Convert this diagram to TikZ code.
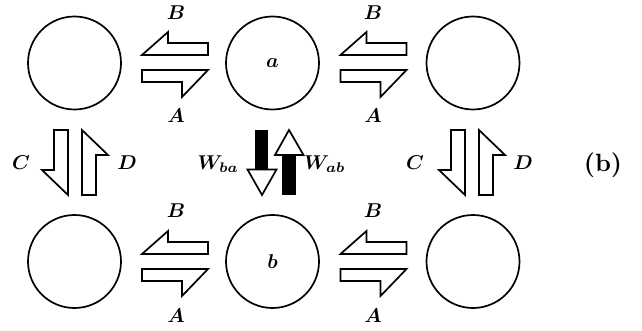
\documentclass[tikz,border=0pt]{standalone}
\usepackage{amsmath}
\usetikzlibrary{calc}
\newcommand{\mylbl}[1]{\scalebox{2}{\boldmath$#1$}}
\tikzset{
  circ/.style={draw, circle, line width=1.7pt, minimum size=93pt, inner sep=0pt},
  outl/.style={draw, line width=1.7pt, fill=white, line join=miter},
  lbl/.style={inner sep=0pt},
  hpair/.pic={
    \draw[outl] (-33,-8) -- (-7,-31) -- (-7,-20) -- (33,-20) -- (33,-8) -- cycle;
    \draw[outl] (-33,7) -- (33,7) -- (7,34) -- (7,19) -- (-33,19) -- cycle;
  },
  vpair/.pic={
    \draw[outl] (-21,-32.5) -- (-7,-32.5) -- (-7,32.5) -- (-33,7.5) -- (-21,7.5) -- cycle;
    \draw[outl] (7,32.5) -- (7,-32.5) -- (33,-7.5) -- (21,-7.5) -- (21,32.5) -- cycle;
  },
  wpair/.pic={
    \fill[black] (-20.5,-32.5) rectangle (-7.5,7);
    \draw[outl] (-28,7) -- (1,7) -- (-13.5,32.5) -- cycle;
    \fill[black] (6.5,32.5) rectangle (20.5,-7.5);
    \draw[outl] (-0.5,-7.5) -- (28,-7.5) -- (13.5,-32.5) -- cycle;
  }
}
\begin{document}
\begin{tikzpicture}[x=1pt,y=-1pt]
\useasboundingbox (0,0) rectangle (642,331);
% circles
\node[circ] (c11) at (74.5,63) {};
\node[circ] (a) at (272.5,63) {};
\node[lbl] at (a) {\mylbl{a}};
\node[circ] (c13) at (473,63) {};
\node[circ] (c21) at (74.5,261.5) {};
\node[circ] (b) at (272.5,261.5) {};
\node[lbl] at (b) {\mylbl{b}};
\node[circ] (c23) at (473,261.5) {};
% horizontal arrow pairs
\pic at (175,63) {hpair};
\pic at (373.5,63) {hpair};
\pic at (175,262) {hpair};
\pic at (373.5,262) {hpair};
% labels A/B
\node[lbl] (B1) at (176,13) {\mylbl{B}};
\node[lbl] (A1) at (176,116) {\mylbl{A}};
\node[lbl] (B2) at (373,13) {\mylbl{B}};
\node[lbl] (A2) at (373,116) {\mylbl{A}};
\node[lbl] (B3) at (176,211) {\mylbl{B}};
\node[lbl] (A3) at (176,316) {\mylbl{A}};
\node[lbl] (B4) at (373,211) {\mylbl{B}};
\node[lbl] (A4) at (373,316) {\mylbl{A}};
% vertical pairs
\pic at (75,162.5) {vpair};
\pic at (472,162.5) {vpair};
\node[lbl] (C1) at (21,163) {\mylbl{C}};
\node[lbl] (D1) at (127,163) {\mylbl{D}};
\node[lbl] (C2) at (415,163) {\mylbl{C}};
\node[lbl] (D2) at (523,163) {\mylbl{D}};
% W arrows
\pic at (275.5,162.5) {wpair};
\node[lbl, anchor=east] (Wba) at (239,164) {\mylbl{W_{ba}}};
\node[lbl, anchor=west] (Wab) at (304,164) {\mylbl{W_{ab}}};
% (b)
\node[inner sep=0pt] (lab) at (603,165) {\scalebox{2.5}{\textbf{(b)}}};
\end{tikzpicture}
\end{document}
